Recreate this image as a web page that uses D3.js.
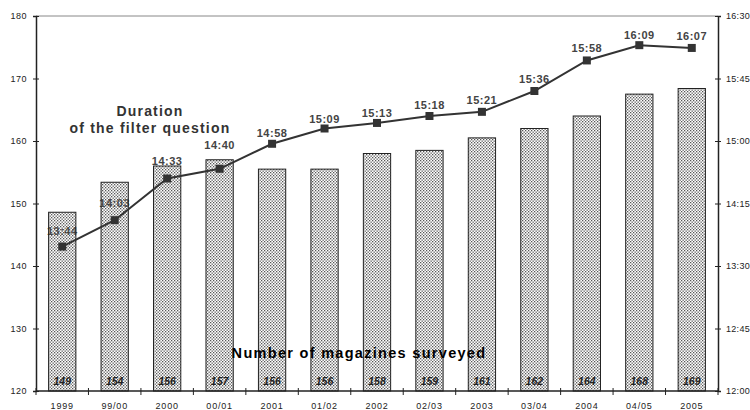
<!DOCTYPE html>
<meta charset="utf-8">
<script src="https://d3js.org/d3.v7.min.js"></script>
<style>
body { margin: 0; background: #fff; }
text { font-family: "Liberation Sans", Arial, sans-serif; }
</style>
<div id="chart"></div>
<script>

// categories (survey waves)
var waves = ["1999", "99/00", "2000", "00/01", "2001", "01/02", "2002", "02/03", "2003", "03/04", "2004", "04/05", "2005"];

var magazines = [148.6, 153.4, 156, 157, 155.5, 155.5, 158, 158.5, 160.5, 162, 164, 167.5, 168.4];
var magazineLabels = ["149", "154", "156", "157", "156", "156", "158", "159", "161", "162", "164", "168", "169"];

// duration of the filter question (mm:ss)
var durations = ["13:44", "14:03", "14:33", "14:40", "14:58", "15:09", "15:13", "15:18", "15:21", "15:36", "15:58", "16:09", "16:07"];

// axis ticks
var leftTicks = [120, 130, 140, 150, 160, 170, 180];
var rightTicks = ["12:00", "12:45", "13:30", "14:15", "15:00", "15:45", "16:30"];

function toSec(s) { var p = s.split(":"); return +p[0] * 60 + +p[1]; }
function fmt(v) { var m = Math.floor(v / 60), s = v % 60; return m + ":" + (s < 10 ? "0" : "") + s; }

var margin = {top: 16, right: 32, bottom: 19, left: 36},
    width = 750 - margin.left - margin.right,
    height = 410 - margin.top - margin.bottom;

var svg = d3.select("#chart")
  .append("svg")
    .attr("width", 750)
    .attr("height", 410)
  .append("g")
    .attr("transform", "translate(" + margin.left + "," + margin.top + ")");

// stipple pattern for the bars
var pat = svg.append("defs").append("pattern")
    .attr("id", "dots")
    .attr("patternUnits", "userSpaceOnUse")
    .attr("width", 3)
    .attr("height", 3);
pat.append("rect").attr("x", 0).attr("y", 0).attr("width", 1.3).attr("height", 1.3).attr("fill", "#555");
pat.append("rect").attr("x", 1.5).attr("y", 1.5).attr("width", 1.3).attr("height", 1.3).attr("fill", "#555");

var x = d3.scaleBand()
    .domain(waves)
    .range([0, width])
    .paddingInner(0.48)
    .paddingOuter(0.24);

var step = width / waves.length;

var y = d3.scaleLinear()
    .domain([120, 180])
    .range([height, 0]);

var y2 = d3.scaleLinear()
    .domain([toSec(rightTicks[0]), toSec(rightTicks[rightTicks.length - 1])])
    .range([height, 0]);

// top border line
svg.append("line")
    .attr("x1", 0).attr("x2", width)
    .attr("y1", y(180)).attr("y2", y(180))
    .attr("stroke", "#888").attr("stroke-width", 1);

// left axis
var gl = svg.append("g")
    .call(d3.axisLeft(y).tickValues(leftTicks).tickSize(3).tickPadding(6));
gl.select(".domain").attr("stroke", "#222").attr("stroke-width", 1.5);
gl.selectAll(".tick line").attr("x2", 3).attr("x1", -3).attr("stroke", "#222");
gl.selectAll(".tick text").attr("font-size", 9).attr("letter-spacing", 0.5)
    .attr("fill", "#222").attr("font-family", "Liberation Sans, Arial, sans-serif");

// right axis
var gr = svg.append("g")
    .attr("transform", "translate(" + width + ",0)")
    .call(d3.axisRight(y2).tickValues(rightTicks.map(toSec)).tickFormat(fmt).tickSize(3).tickPadding(5));
gr.select(".domain").attr("stroke", "#222").attr("stroke-width", 1.5);
gr.selectAll(".tick line").attr("x1", -3).attr("x2", 3).attr("stroke", "#222");
gr.selectAll(".tick text").attr("font-size", 9).attr("letter-spacing", 0.3)
    .attr("fill", "#222").attr("font-family", "Liberation Sans, Arial, sans-serif");

// time labels (drawn first: the bars sit on top of them)
var labelLift = [12, 13, 14, 20, 7, 6, 6, 7, 8, 8, 8, 6, 8];
svg.append("g").selectAll("text")
    .data(durations)
  .enter().append("text")
    .attr("x", function(d, i) { return x(waves[i]) + x.bandwidth() / 2; })
    .attr("y", function(d, i) { return y2(toSec(d)) - labelLift[i]; })
    .attr("text-anchor", "middle")
    .attr("font-size", 11)
    .attr("font-weight", "bold")
    .attr("letter-spacing", 0.5)
    .attr("fill", "#444")
    .text(function(d) { return d; });

// bars
svg.append("g").selectAll("rect")
    .data(magazines)
  .enter().append("rect")
    .attr("x", function(d, i) { return x(waves[i]); })
    .attr("y", function(d) { return y(d); })
    .attr("width", x.bandwidth())
    .attr("height", function(d) { return height - y(d); })
    .attr("fill", "url(#dots)")
    .attr("stroke", "#222")
    .attr("stroke-width", 1);

// bar value labels
svg.append("g").selectAll("text")
    .data(magazineLabels)
  .enter().append("text")
    .attr("x", function(d, i) { return x(waves[i]) + x.bandwidth() / 2; })
    .attr("y", height - 6)
    .attr("text-anchor", "middle")
    .attr("font-size", 10.5)
    .attr("font-weight", "bold")
    .attr("font-style", "italic")
    .attr("fill", "#222")
    .text(function(d) { return d; });

// bottom axis
svg.append("line")
    .attr("x1", 0).attr("x2", width)
    .attr("y1", height).attr("y2", height)
    .attr("stroke", "#222").attr("stroke-width", 1.5);
svg.append("g").selectAll("line")
    .data(d3.range(waves.length + 1))
  .enter().append("line")
    .attr("x1", function(d) { return d * step; })
    .attr("x2", function(d) { return d * step; })
    .attr("y1", height - 3)
    .attr("y2", height + 4)
    .attr("stroke", "#222");
svg.append("g").selectAll("text")
    .data(waves)
  .enter().append("text")
    .attr("x", function(d) { return x(d) + x.bandwidth() / 2; })
    .attr("y", height + 18)
    .attr("text-anchor", "middle")
    .attr("font-size", 9)
    .attr("letter-spacing", 0.8)
    .attr("fill", "#222")
    .text(function(d) { return d; });

// duration line
var line = d3.line()
    .x(function(d, i) { return x(waves[i]) + x.bandwidth() / 2; })
    .y(function(d) { return y2(toSec(d)); });

svg.append("path")
    .datum(durations)
    .attr("d", line)
    .attr("fill", "none")
    .attr("stroke", "#333")
    .attr("stroke-width", 2);

svg.append("g").selectAll("rect")
    .data(durations)
  .enter().append("rect")
    .attr("x", function(d, i) { return x(waves[i]) + x.bandwidth() / 2 - 4; })
    .attr("y", function(d) { return y2(toSec(d)) - 4; })
    .attr("width", 8)
    .attr("height", 8)
    .attr("fill", "#333");

// annotations
var ann = svg.append("text")
    .attr("text-anchor", "middle")
    .attr("font-size", 14)
    .attr("font-weight", "bold")
    .attr("letter-spacing", 1.2)
    .attr("fill", "#333");
ann.append("tspan").attr("x", 114).attr("y", 100).text("Duration");
ann.append("tspan").attr("x", 114).attr("y", 117).text("of the filter question");

svg.append("text")
    .attr("x", 323)
    .attr("y", 342)
    .attr("text-anchor", "middle")
    .attr("font-size", 14.5)
    .attr("font-weight", "bold")
    .attr("letter-spacing", 1.3)
    .attr("fill", "#000")
    .text("Number of magazines surveyed");

</script>
